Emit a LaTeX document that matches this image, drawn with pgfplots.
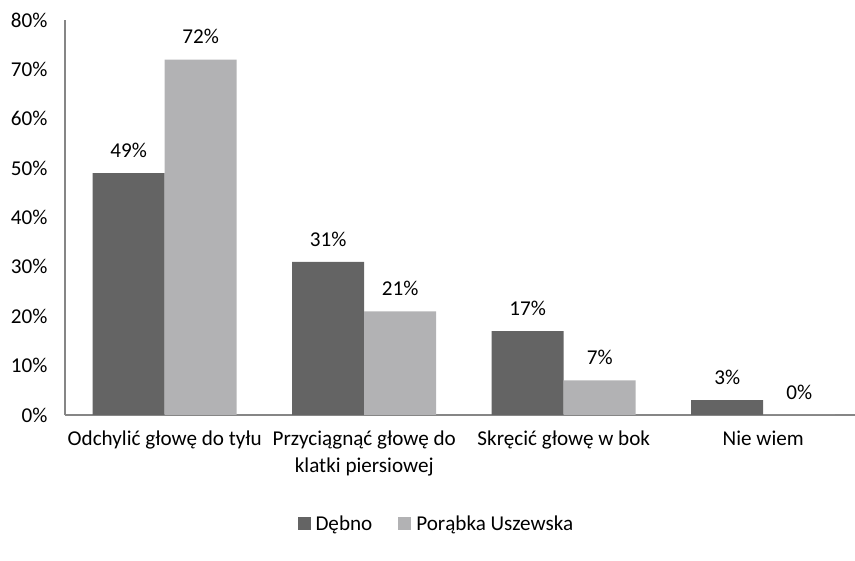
\documentclass[border=0pt]{standalone}
\usepackage{pgfplots}
\pgfplotsset{compat=1.18}
\usepackage{fontspec}
\setmainfont{Carlito}
\definecolor{darkbar}{HTML}{646464}
\definecolor{lightbar}{HTML}{B2B2B4}
\definecolor{axisgray}{HTML}{868686}
\begin{document}
\begin{tikzpicture}
\path[use as bounding box] (0,0) rectangle (855bp,561bp);
\begin{axis}[
  at={(65bp,146bp)}, anchor=south west,
  scale only axis, width=790bp, height=395bp,
  font=\fontsize{21.2}{27}\selectfont,
  ybar=0pt, bar width=72bp,
  xmin=-0.5, xmax=3.46, ymin=0, ymax=80,
  axis x line*=bottom, axis y line*=left,
  axis line style={axisgray, line width=2bp, -},
  major tick length=0pt,
  xtick={0,1,2,3},
  xticklabels={Odchylić głowę do tyłu, {Przyciągnąć głowę do\\klatki piersiowej}, Skręcić głowę w bok, Nie wiem},
  xticklabel style={align=center, yshift=-12bp},
  ytick={0,10,...,80},
  yticklabel={\pgfmathprintnumber{\tick}\%},
  yticklabel shift=14bp,
  /pgf/number format/assume math mode=true,
  nodes near coords={\pgfmathprintnumber{\pgfplotspointmeta}\%},
  nodes near coords style={yshift=12bp, black},
  legend style={draw=none, at={(0.47,-0.276)}, anchor=center, legend columns=2,
    /tikz/every odd column/.append style={column sep=3bp},
    /tikz/every even column/.append style={column sep=24bp}},
  legend image code/.code={\fill[#1] (0bp,-6bp) rectangle (13bp,7bp);},
]
\addplot[fill=darkbar, draw=none] coordinates {(0,49) (1,31) (2,17) (3,3)};
\addplot[fill=lightbar, draw=none] coordinates {(0,72) (1,21) (2,7) (3,0)};
\legend{Dębno, Porąbka Uszewska}
\end{axis}
\end{tikzpicture}
\end{document}
